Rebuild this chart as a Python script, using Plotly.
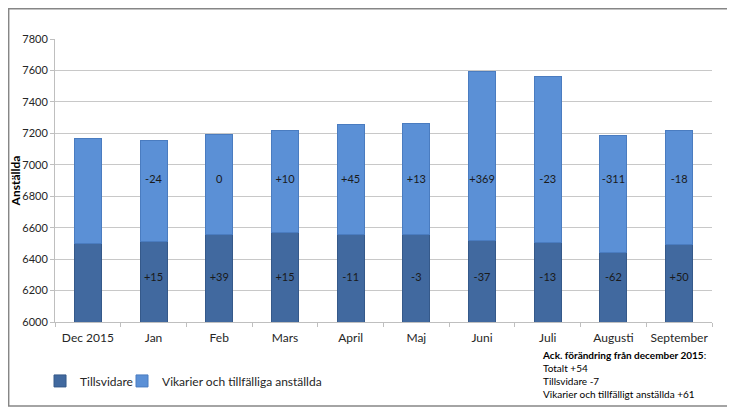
import plotly.graph_objects as go

# Data
months = ["Dec 2015", "Jan", "Feb", "Mars", "April", "Maj", "Juni", "Juli", "Augusti", "September"]
tillsvidare = [6500, 6515, 6554, 6569, 6558, 6555, 6518, 6505, 6443, 6493]
vikarier = [665, 641, 641, 651, 696, 709, 1078, 1055, 744, 726]
tillsvidare_change = ["", "+15", "+39", "+15", "-11", "-3", "-37", "-13", "-62", "+50"]
vikarier_change = ["", "-24", "0", "+10", "+45", "+13", "+369", "-23", "-311", "-18"]
y_ticks = [6000, 6200, 6400, 6600, 6800, 7000, 7200, 7400, 7600, 7800]

FONT = "Lato"
DARK = "#41699f"
LIGHT = "#5b90d6"

# fixed heights where the change labels sit
LOW_LABEL_Y = 6280
HIGH_LABEL_Y = 6900

fig = go.Figure()

fig.add_trace(go.Bar(
    x=months, y=tillsvidare, name="Tillsvidare", legend="legend",
    marker=dict(color=DARK, line=dict(color="#35598a", width=1)),
))
fig.add_trace(go.Bar(
    x=months, y=vikarier, name="Vikarier och tillfälliga anställda", legend="legend2",
    marker=dict(color=LIGHT, line=dict(color="#4a7cc0", width=1)),
))

fig.add_trace(go.Scatter(
    x=months, y=[LOW_LABEL_Y] * len(months), text=tillsvidare_change,
    mode="text", textfont=dict(family=FONT, size=11, color="#1a1a1a"),
    showlegend=False, hoverinfo="skip",
))
fig.add_trace(go.Scatter(
    x=months, y=[HIGH_LABEL_Y] * len(months), text=vikarier_change,
    mode="text", textfont=dict(family=FONT, size=11, color="#1a1a1a"),
    showlegend=False, hoverinfo="skip",
))

legend_style = dict(
    orientation="h", y=-0.157, xanchor="left", yanchor="top",
    font=dict(family=FONT, size=12, color="#262626"), bgcolor="rgba(0,0,0,0)",
)

# page body adds an 8px offset, so the figure is a bit smaller than the window
fig.update_layout(
    width=727, height=400,
    margin=dict(l=47, r=23, t=31, b=86, autoexpand=False),
    barmode="stack",
    bargap=0.59,
    plot_bgcolor="white",
    paper_bgcolor="white",
    font=dict(family=FONT, size=11, color="#262626"),
    legend=dict(x=-0.0228, **legend_style),
    legend2=dict(x=0.102, **legend_style),
    showlegend=True,
)

fig.update_xaxes(
    showgrid=False, showline=True, linecolor="#bfbfbf", linewidth=1,
    ticks="outside", tickson="boundaries", ticklen=4, tickcolor="#bfbfbf",
    tickangle=0, automargin=False, ticklabelstandoff=5,
    tickfont=dict(family=FONT, size=12, color="#262626"),
)
fig.update_yaxes(
    range=[6000, 7800], tickvals=y_ticks, automargin=False,
    showgrid=True, gridcolor="#c8c8c8", gridwidth=1,
    showline=True, linecolor="#bfbfbf", linewidth=1,
    ticks="outside", ticklen=4, tickcolor="#bfbfbf",
    tickfont=dict(family=FONT, size=11, color="#262626"),
    title=dict(text="<b>Anställda</b>", font=dict(family=FONT, size=12, color="#000000"), standoff=8),
    zeroline=False,
)

fig.add_annotation(
    xref="paper", yref="paper", x=0.738, y=-0.09, xanchor="left", yanchor="top",
    align="left", showarrow=False,
    text=("<b>Ack. förändring från december 2015</b>:<br>Totalt +54<br>"
          "Tillsvidare -7<br>Vikarier och tillfälligt anställda +61"),
    font=dict(family=FONT, size=10, color="#000000"),
)

# outer chart border
fig.add_shape(
    type="rect", xref="paper", yref="paper",
    x0=-0.0705, x1=1.032, y0=-0.297, y1=1.107,
    line=dict(color="#868686", width=1.5), fillcolor="rgba(0,0,0,0)",
)

fig.write_html("out.html")
